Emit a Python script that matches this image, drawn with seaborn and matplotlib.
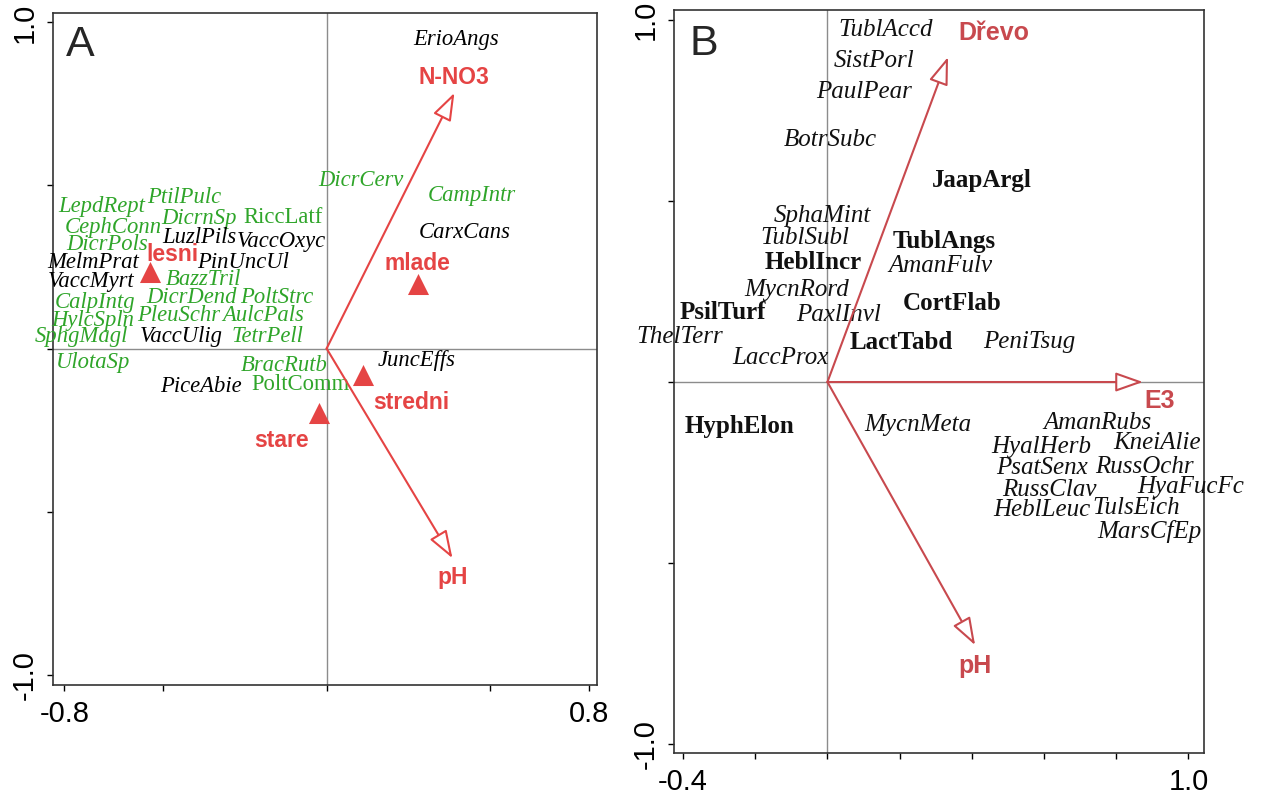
import matplotlib
matplotlib.use("Agg")
import matplotlib.pyplot as plt
import seaborn as sns
import pandas as pd

sns.set_style("ticks")
plt.rcParams['font.family'] = ['Liberation Sans', 'DejaVu Sans']

RED_A = '#e54444'
RED_B = '#c8494e'
GREEN = '#2fa52a'

# ---- panel A: species scores ----
a_species = ['ErioAngs', 'DicrCerv', 'CampIntr', 'CarxCans', 'LepdRept', 'PtilPulc',
             'CephConn', 'DicrnSp', 'RiccLatf', 'LuzlPils', 'VaccOxyc', 'DicrPols',
             'MelmPrat', 'PinUncUl', 'VaccMyrt', 'BazzTril', 'CalpIntg', 'DicrDend',
             'PoltStrc', 'HylcSpln', 'PleuSchr', 'AulcPals', 'SphgMagl', 'VaccUlig',
             'TetrPell', 'UlotaSp', 'BracRutb', 'PiceAbie', 'PoltComm', 'JuncEffs']
a_x = [0.395, 0.106, 0.444, 0.420, -0.687, -0.435,
       -0.650, -0.389, -0.134, -0.389, -0.137, -0.669,
       -0.711, -0.255, -0.720, -0.377, -0.708, -0.413,
       -0.152, -0.714, -0.453, -0.195, -0.748, -0.444,
       -0.179, -0.711, -0.128, -0.383, -0.079, 0.274]
a_y = [0.948, 0.515, 0.470, 0.356, 0.436, 0.463,
       0.371, 0.399, 0.402, 0.340, 0.328, 0.319,
       0.264, 0.264, 0.206, 0.212, 0.141, 0.156,
       0.156, 0.086, 0.101, 0.101, 0.037, 0.037,
       0.037, -0.043, -0.052, -0.117, -0.110, -0.037]
a_group = ['vasc', 'moss', 'moss', 'vasc', 'moss', 'moss',
           'moss', 'moss', 'moss', 'vasc', 'vasc', 'moss',
           'vasc', 'vasc', 'vasc', 'moss', 'moss', 'moss',
           'moss', 'moss', 'moss', 'moss', 'moss', 'vasc',
           'moss', 'moss', 'moss', 'vasc', 'moss', 'vasc']
a_upright = ['RiccLatf', 'PoltComm']

# panel A: stand age centroids
a_cent = ['lesni', 'mlade', 'stredni', 'stare']
a_cx = [-0.538, 0.280, 0.110, -0.024]
a_cy = [0.236, 0.198, -0.081, -0.198]
a_cent_off = [(16, 12), (-1, 15), (35, -20), (-27, -20)]

# panel A: environmental arrows
a_env = ['N-NO3', 'pH']
a_ex = [0.390, 0.384]
a_ey = [0.784, -0.643]
a_env_off = [(0, 11), (0, -14)]

# ---- panel B: fungal species ----
b_species = ['TublAccd', 'SistPorl', 'PaulPear', 'BotrSubc', 'JaapArgl', 'SphaMint',
             'TublSubl', 'TublAngs', 'HeblIncr', 'AmanFulv', 'MycnRord', 'CortFlab',
             'PsilTurf', 'PaxlInvl', 'ThelTerr', 'LactTabd', 'PeniTsug', 'LaccProx',
             'HyphElon', 'MycnMeta', 'AmanRubs', 'HyalHerb', 'KneiAlie', 'PsatSenx',
             'RussOchr', 'RussClav', 'HyaFucFc', 'HeblLeuc', 'TulsEich', 'MarsCfEp']
b_x = [0.162, 0.129, 0.101, 0.007, 0.428, -0.013,
       -0.062, 0.323, -0.040, 0.312, -0.084, 0.345,
       -0.289, 0.032, -0.409, 0.204, 0.558, -0.129,
       -0.243, 0.251, 0.749, 0.592, 0.913, 0.595,
       0.877, 0.614, 1.007, 0.594, 0.855, 0.893]
b_y = [0.972, 0.887, 0.801, 0.668, 0.558, 0.459,
       0.398, 0.387, 0.329, 0.320, 0.254, 0.218,
       0.191, 0.185, 0.124, 0.110, 0.110, 0.066,
       -0.124, -0.119, -0.113, -0.180, -0.169, -0.238,
       -0.235, -0.298, -0.290, -0.354, -0.348, -0.414]
b_bold = ['JaapArgl', 'TublAngs', 'HeblIncr', 'CortFlab', 'PsilTurf', 'LactTabd', 'HyphElon']

# panel B: environmental arrows
b_env = ['Dřevo', 'E3', 'pH']
b_ex = [0.334, 0.874, 0.409]
b_ey = [0.898, 0.000, -0.727]
b_env_off = [(33, 17), (12, -14), (0, -15)]

fig = plt.figure(figsize=(12.61, 7.98), dpi=100)
axA = fig.add_axes([0.042, 0.1416, 0.4314, 0.8425])
axB = fig.add_axes([0.5345, 0.0564, 0.4203, 0.9311])


def frame(ax, xlim, ylim, xticks, xlabels, yticks, ylabels):
    ax.set_xlim(*xlim)
    ax.set_ylim(*ylim)
    ax.axhline(0, color='#8c8c8c', lw=1, zorder=0)
    ax.axvline(0, color='#8c8c8c', lw=1, zorder=0)
    ax.set_xticks(xticks)
    ax.set_xticklabels(xlabels, fontsize=21)
    ax.set_yticks(yticks)
    ax.set_yticklabels(ylabels, fontsize=21, rotation=90, va='center')
    ax.tick_params(direction='out', length=4.5, width=1, pad=6, colors='black')
    for s in ax.spines.values():
        s.set_linewidth(1.2)
        s.set_color('#333333')
    ax.set_xlabel('')
    ax.set_ylabel('')


def arrows(ax, names, xs, ys, offs, col, size):
    for n, x, y, o in zip(names, xs, ys, offs):
        ax.annotate('', xy=(x, y), xytext=(0, 0),
                    arrowprops=dict(arrowstyle='-|>,head_length=0.85,head_width=0.3',
                                    ec=col, fc='white', lw=1.5, shrinkA=0, shrinkB=0,
                                    mutation_scale=20))
        ax.annotate(n, xy=(x, y), xytext=o, textcoords='offset points',
                    ha='center', va='center', color=col, fontsize=size, fontweight='bold',
                    family=['Liberation Sans', 'DejaVu Sans'])


# ---- panel A ----
cent = pd.DataFrame({'x': a_cx, 'y': a_cy, 'name': a_cent})
sns.scatterplot(data=cent, x='x', y='y', marker='^', s=230, color=RED_A,
                edgecolor=RED_A, linewidth=0, ax=axA, zorder=3)
for n, x, y, g in zip(a_species, a_x, a_y, a_group):
    axA.text(x, y, n, ha='center', va='center', fontsize=16.3,
             family='Liberation Serif',
             style='normal' if n in a_upright else 'italic',
             color=GREEN if g == 'moss' else 'black')
for n, x, y, o in zip(a_cent, a_cx, a_cy, a_cent_off):
    axA.annotate(n, xy=(x, y), xytext=o, textcoords='offset points',
                 ha='center', va='center', color=RED_A, fontsize=16.5, fontweight='bold')
arrows(axA, a_env, a_ex, a_ey, a_env_off, RED_A, 16.5)
frame(axA, (-0.835, 0.825), (-1.032, 1.03),
      [-0.8, -0.5, 0, 0.5, 0.8], ['-0.8', '', '', '', '0.8'],
      [-1.0, -0.5, 0, 0.5, 1.0], ['-1.0', '', '', '', '1.0'])
axA.text(-0.753, 0.93, 'A', fontsize=31, ha='center', va='center')

# ---- panel B ----
for n, x, y in zip(b_species, b_x, b_y):
    bold = n in b_bold
    axB.text(x, y, n, ha='center', va='center', fontsize=18,
             family='Liberation Serif',
             style='normal' if bold else 'italic',
             fontweight='bold' if bold else 'normal', color='#111111')
arrows(axB, b_env, b_ex, b_ey, b_env_off, RED_B, 18)
frame(axB, (-0.425, 1.043), (-1.025, 1.028),
      [-0.4, -0.2, 0, 0.2, 0.4, 0.6, 0.8, 1.0], ['-0.4', '', '', '', '', '', '', '1.0'],
      [-1.0, -0.5, 0, 0.5, 1.0], ['-1.0', '', '', '', '1.0'])
axB.text(-0.342, 0.934, 'B', fontsize=31, ha='center', va='center')

fig.savefig('out.png', dpi=100)
